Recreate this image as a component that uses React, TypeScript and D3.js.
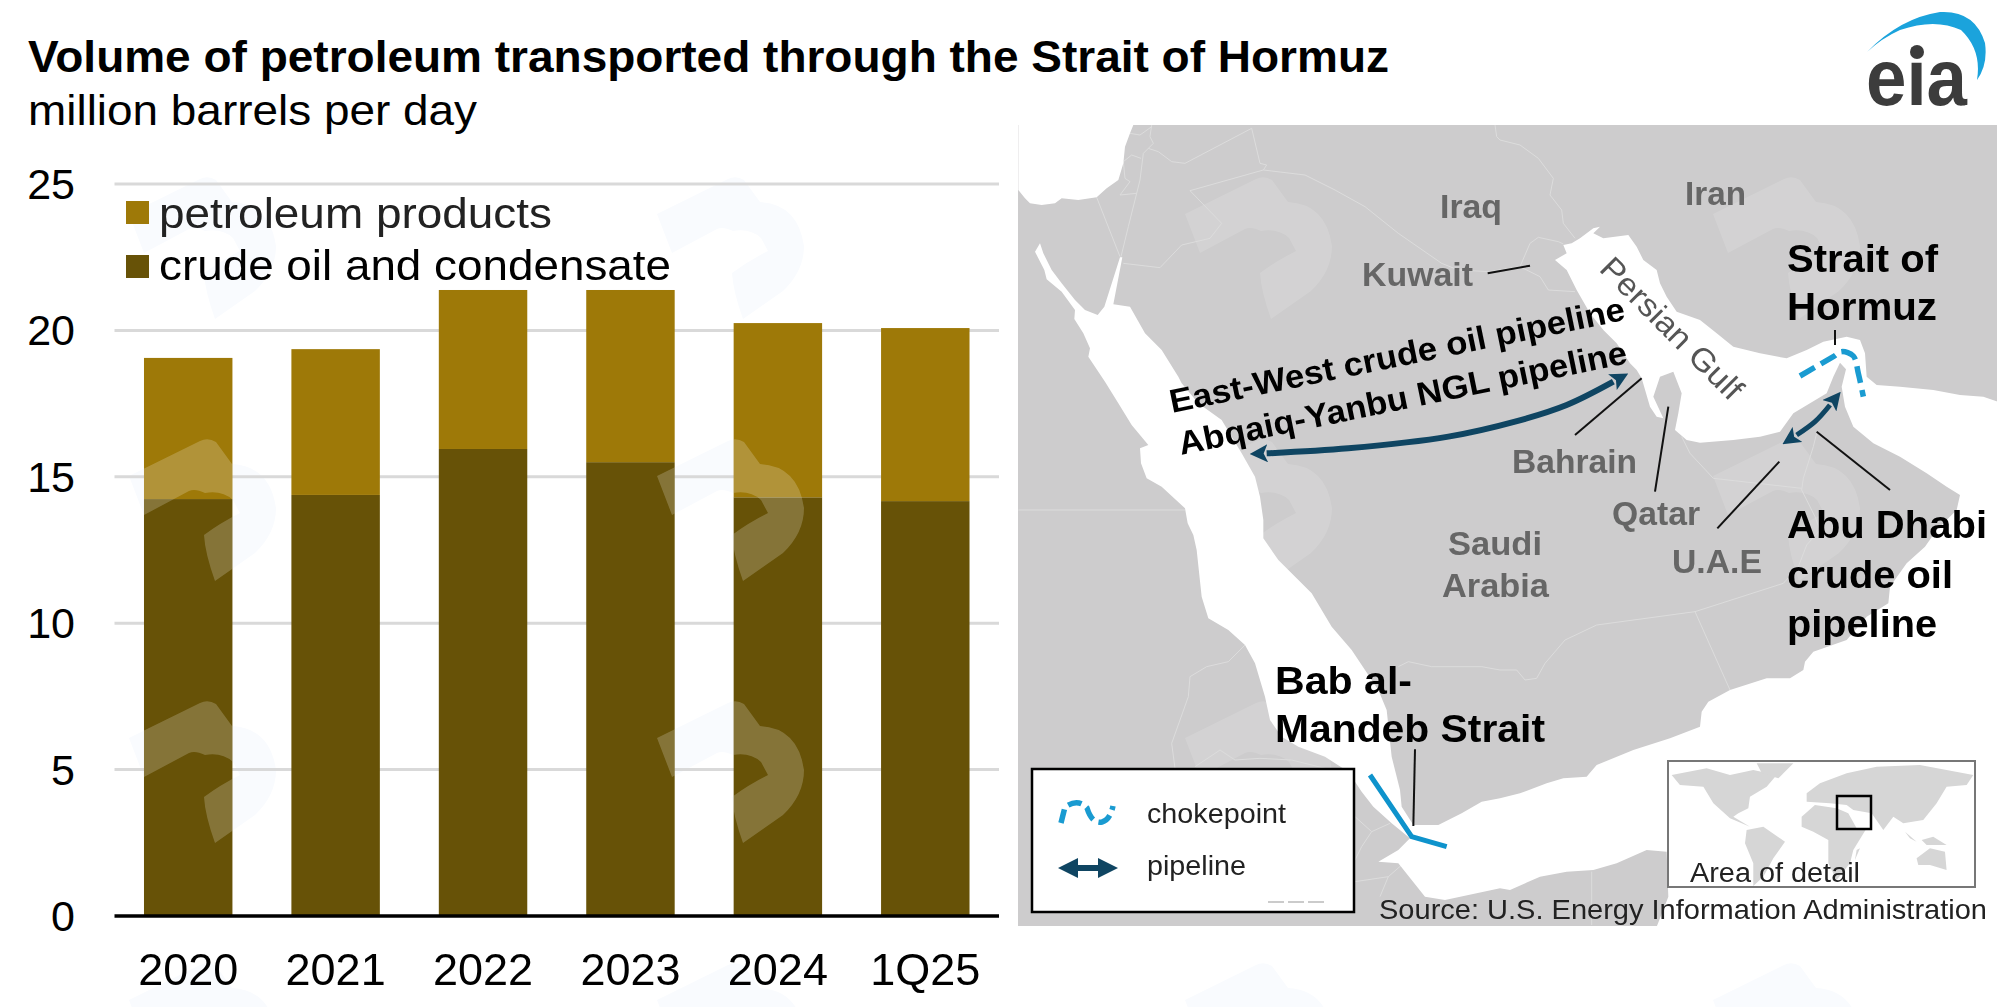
import * as d3 from "d3";

type Pt = [number, number];

// chart data, million barrels per day
const categories = ["2020", "2021", "2022", "2023", "2024", "1Q25"];
const crudeOil = [14.24, 14.38, 15.95, 15.5, 14.3, 14.17];
const petroleumProducts = [4.82, 4.98, 5.43, 5.88, 5.95, 5.91];
const yTicks = [0, 5, 10, 15, 20, 25];

// map outlines, lon/lat
const seaOutline: Pt[] = [
  [32.06, 29.65], [31.91, 29.4], [32.19, 28.85], [32.26, 28.57], [32.71, 28.2], [33.11, 27.65], [33.09, 27.38],
  [33.36, 26.95], [33.56, 26.5], [33.51, 26.25], [34.01, 25.5], [34.41, 24.85], [34.81, 24.2], [35.31, 23.6],
  [35.06, 23.5], [35.09, 23.05], [35.26, 22.6], [35.71, 22.35], [36.41, 21.7], [36.49, 21.25], [36.66, 20.9],
  [36.76, 20.45], [36.91, 19.05], [37.11, 18.4], [37.71, 18.05], [38.21, 17.6], [38.51, 17.05], [38.81, 16.05],
  [38.96, 15.35], [39.31, 14.85], [39.81, 14.55], [40.61, 14.25], [41.31, 13.8], [41.71, 13.2], [42.06, 12.75],
  [42.61, 12.25], [43.16, 11.8], [42.81, 11.45], [42.21, 11.1], [42.81, 11.05], [43.21, 10.55], [43.61, 10.05],
  [44.21, 9.95], [45.86, 10.3], [46.16, 10.25], [47.06, 10.65], [47.86, 10.8], [48.66, 10.85], [49.36, 11.05],
  [50.26, 11.45], [50.86, 11.4], [50.91, 10.05], [50.56, 9.15], [60.8, 9.15], [60.8, 24.9], [60.36, 25.05],
  [59.66, 25.1], [58.86, 25.25], [57.86, 25.35], [57.16, 25.4], [56.86, 25.65], [56.81, 26.35], [56.66, 26.75],
  [56.26, 26.85], [55.56, 26.7], [55.06, 26.45], [54.46, 26.2], [53.66, 26.35], [52.86, 26.55], [52.36, 26.95],
  [51.86, 27.35], [51.16, 27.6], [50.86, 28.05], [50.66, 28.45], [50.56, 28.85], [50.16, 29.15], [49.96, 29.55],
  [49.71, 29.9], [48.96, 29.8], [48.66, 29.95], [48.86, 30.15], [48.66, 30.1], [48.26, 29.8], [48.01, 29.65],
  [47.76, 29.6], [47.86, 29.35], [47.51, 29.15], [47.86, 28.85], [48.16, 28.25], [48.56, 27.55], [48.96, 27.05],
  [49.36, 26.65], [49.76, 26.05], [49.96, 25.85], [50.11, 25.6], [50.36, 24.75], [50.56, 24.45], [50.76, 24.4],
  [50.46, 25.05], [50.66, 25.65], [51.06, 25.8], [51.31, 25.15], [51.21, 24.55], [51.11, 24.05], [51.46, 23.75],
  [51.86, 23.67], [52.86, 23.75], [53.66, 23.85], [54.26, 24.0], [54.66, 24.55], [55.16, 24.85], [55.66, 25.15],
  [55.86, 25.65], [56.06, 26.07], [56.24, 25.87], [56.11, 25.35], [56.21, 24.75], [56.46, 24.15], [57.06, 23.65],
  [57.86, 23.25], [58.66, 22.75], [59.26, 22.35], [59.66, 22.1], [59.56, 21.65], [58.96, 21.05], [58.61, 20.55],
  [58.06, 20.05], [57.56, 19.35], [57.51, 18.85], [56.86, 18.45], [56.26, 17.75], [55.26, 17.4], [55.01, 17.1],
  [54.96, 16.85], [54.56, 16.6], [53.86, 16.6], [52.76, 16.25], [52.11, 15.9], [51.91, 15.6], [51.86, 15.15],
  [50.96, 14.8], [49.86, 14.45], [48.76, 14.0], [48.46, 13.65], [47.76, 13.6], [47.26, 13.45], [46.46, 13.15],
  [45.86, 13.0], [45.31, 12.9], [44.71, 12.55], [44.01, 12.2], [43.26, 12.2], [42.91, 12.75], [42.86, 13.25],
  [42.61, 14.25], [42.46, 15.65], [42.21, 16.25], [41.41, 17.45], [40.81, 18.15], [40.21, 19.15], [39.21, 20.15],
  [38.76, 20.8], [38.76, 21.35], [38.66, 22.05], [38.51, 22.65], [38.11, 23.35], [37.51, 24.35], [36.81, 24.85],
  [36.31, 25.45], [36.21, 25.65], [35.71, 26.45], [35.21, 26.95], [34.76, 27.75], [34.26, 27.82], [34.53, 29.23],
  [34.46, 29.23], [33.99, 27.75], [33.79, 27.5], [33.41, 27.65], [33.11, 27.95], [32.71, 28.45], [32.41, 28.85],
  [32.16, 29.35],
];
const mediterranean: Pt[] = [
  [34.86, 33.2], [34.76, 32.95], [34.61, 32.55], [34.56, 32.05], [34.41, 31.55], [34.06, 31.3], [33.76, 31.03],
  [33.21, 30.95], [32.71, 31.0], [32.51, 30.85], [32.11, 30.8], [31.76, 30.85], [31.61, 31.0], [31.41, 31.25],
  [31.41, 33.2],
];
const borders: Pt[][] = [
  [[35.41, 33.2], [35.36, 32.85], [35.46, 32.65], [35.31, 32.5], [35.61, 32.4], [36.01, 32.1], [36.41, 32.05],
    [38.41, 33.1], [38.66, 32.05], [38.86, 32.0], [38.76, 31.85], [40.01, 31.7], [40.91, 31.25], [41.81, 30.75],
    [42.81, 29.95], [44.11, 29.05], [44.61, 28.85], [45.51, 28.8], [46.46, 28.95]],
  [[46.46, 28.95], [46.76, 29.65], [47.01, 29.83], [47.61, 29.7], [47.76, 29.63]],
  [[46.46, 28.95], [47.06, 28.65], [47.31, 28.25], [48.11, 28.2]],
  [[38.76, 31.85], [36.56, 31.23], [37.51, 30.25], [37.16, 29.8], [36.31, 29.6], [35.66, 28.92], [34.56, 29.05]],
  [[33.76, 31.03], [34.46, 29.25]],
  [[35.31, 32.5], [35.16, 32.35], [35.06, 31.55], [34.71, 30.15], [34.49, 29.25]],
  [[35.09, 32.2], [34.81, 32.3], [34.56, 32.1], [34.61, 31.6], [34.76, 31.5], [34.46, 31.1], [34.96, 31.15]],
  [[34.76, 32.95], [35.06, 32.9], [35.41, 33.15]],
  [[45.71, 33.2], [45.76, 32.85], [45.86, 32.75], [46.46, 32.6], [47.01, 32.2], [47.46, 31.6], [47.36, 31.1],
    [47.71, 30.65], [47.76, 30.25], [48.11, 29.8]],
  [[31.41, 21.65], [36.41, 21.65]],
  [[42.81, 16.95], [43.11, 17.1], [43.81, 16.95], [45.31, 16.95], [45.86, 16.85], [46.36, 16.85], [46.61, 16.55],
    [46.96, 16.6], [47.21, 17.05], [47.81, 17.75], [48.76, 18.2], [51.71, 18.6], [54.36, 19.45], [54.81, 19.95],
    [55.06, 20.6], [55.46, 21.05], [55.31, 21.45], [54.91, 22.25], [54.96, 22.6], [55.26, 23.55], [55.36, 23.95]],
  [[51.31, 23.85], [51.56, 23.35], [52.26, 22.6], [54.91, 22.3]],
  [[51.71, 18.6], [52.76, 16.25]],
  [[38.21, 17.6], [37.71, 17.1], [37.06, 16.95], [36.56, 16.65], [36.51, 16.05], [36.26, 15.35], [36.01, 14.65], [36.11, 13.9]],
  [[36.71, 13.95], [37.46, 14.45], [37.91, 14.15], [38.66, 14.2], [39.61, 14.15], [40.61, 13.9]],
  [[41.51, 12.45], [42.01, 12.0], [42.56, 12.25]],
  [[42.01, 12.0], [41.71, 11.55], [41.51, 11.15]],
  [[41.51, 10.5], [42.51, 10.65], [42.91, 11.0]],
  [[42.51, 10.65], [42.26, 10.05]],
  [[48.61, 10.8], [48.61, 9.2]],
];
const leaders: Pt[][] = [
  [[45.49, 28.75], [46.76, 28.98]],
  [[50.11, 25.6], [48.11, 23.9]],
  [[50.91, 24.75], [50.51, 22.2]],
  [[54.24, 23.1], [52.38, 21.1]],
  [[55.36, 24.0], [57.56, 22.25]],
  [[55.91, 27.05], [55.91, 26.6]],
  [[43.31, 14.47], [43.26, 12.17]],
];
const eastWestPipeline: Pt[] = [[38.86, 23.35], [41.31, 23.5], [44.31, 23.85], [46.31, 24.3], [47.86, 24.8], [49.26, 25.5]];
const abuDhabiPipeline: Pt[] = [[54.76, 23.9], [55.31, 24.3], [55.76, 24.8]];
const hormuzChoke: Pt[] = [[54.86, 25.67], [55.86, 26.25], [56.11, 26.4], [56.46, 26.27], [56.61, 25.75], [56.76, 25.05]];
const mandebChoke: Pt[] = [[41.96, 13.7], [43.21, 11.85], [44.26, 11.55]];

// inset world map, lon/lat
const worldLand: Pt[][] = [
  [[-175.7, 58], [-134.7, 64.7], [-107.3, 58], [-80, 63], [-52.6, 58], [-64.3, 46.3], [-83.9, 36.3], [-85.8, 24.7],
    [-97.5, 19.7], [-103.4, 16.3], [-83.9, 6.3], [-107.3, 14.7], [-126.8, 29.7], [-138.5, 46.3], [-166, 48]],
  [[-76, 69.7], [-33, 69.7], [-50.6, 54.7], [-70, 59.7]],
  [[-87.8, 3], [-68.2, 6.3], [-42.8, -8.7], [-56.5, -25.3], [-68.2, -43.7], [-80, -53], [-80, -30.3], [-89.7, -10.3]],
  [[-23.3, 16.3], [-7.7, 28], [17.7, 24.7], [31.4, 19.7], [41.2, 4.7], [52.9, 4.7], [37.3, -17], [33.4, -30.3],
    [17.7, -47], [8, -30.3], [8, -7], [-9.6, 1.3], [-23.3, 6.3]],
  [[-17.4, 39.7], [-1.8, 49.7], [29.5, 59.7], [64.6, 66.3], [115.4, 68], [178, 58], [170.2, 48], [146.7, 46.3],
    [135, 29.7], [119.3, 13], [95.9, 9.7], [84.2, 16.3], [72.5, 3], [58.8, 19.7], [37.3, 23], [29.5, 28], [9.9, 29.7], [-17.4, 31.3]],
  [[111.5, -25.3], [127.2, -15.3], [144.8, -18.7], [146.7, -37], [127.2, -32], [113.5, -32]],
  [[97.9, 1.3], [111.5, -8.7], [103.7, -5.3]],
  [[117.4, -7], [131, -3.7], [146.7, -12], [123.3, -12]],
  [[41.2, -17], [45.1, -15.3], [39.2, -27]],
];

const COL_TOP = "#9e7908";
const COL_BOTTOM = "#675207";
const PIPE = "#0f4562";
const CHOKE = "#1a9bd1";
const FONT = "'Liberation Sans', Arial, sans-serif";

// faint stamp that repeats over the whole picture
const stampPath =
  "M129 738 L200 703 Q208 699 216 704 L232 726 Q270 728 276 770 Q276 795 255 815 L215 843 Q205 815 204 797 Q220 785 240 775 L233 762 Q222 752 205 755 Q195 750 189 753 L144 777 Z";
const stampCols = [0, 528, 1056, 1584];
const stampRows = [-524, -262, 0, 262];

const x = d3.scaleBand<string>().domain(categories).range([114.5, 999]).paddingInner(0.4).paddingOuter(0.2);
const y = d3.scaleLinear().domain([0, 25]).range([916, 184]);
const mapX = d3.scaleLinear().domain([31.4, 60.8]).range([1018, 1998]);
const mapY = d3.scaleLinear().domain([33.2, 9.17]).range([125, 926]);
const worldX = d3.scaleLinear().domain([-180, 180]).range([1668, 1975]);
const worldY = d3.scaleLinear().domain([72, -54]).range([761, 887]);

const geo = d3.line<Pt>().x((d) => mapX(d[0])).y((d) => mapY(d[1]));
const geoCurve = d3.line<Pt>().x((d) => mapX(d[0])).y((d) => mapY(d[1])).curve(d3.curveCatmullRom);
const world = d3.line<Pt>().x((d) => worldX(d[0])).y((d) => worldY(d[1])).curve(d3.curveLinearClosed);

const rows = categories.map((c, i) => ({ c, crude: crudeOil[i], products: petroleumProducts[i] }));
const stack = d3.stack<(typeof rows)[number]>().keys(["crude", "products"])(rows);

function Label(p: { x: number; y: number; w?: number; size: number; bold?: boolean; fill?: string; children: string; rotate?: number; anchor?: string }) {
  return (
    <text
      x={p.x} y={p.y}
      fontFamily={FONT} fontSize={p.size} fontWeight={p.bold ? 700 : 400}
      fill={p.fill ?? "#000"} textAnchor={p.anchor}
      textLength={p.w} lengthAdjust={p.w ? "spacingAndGlyphs" : undefined}
      transform={p.rotate ? `rotate(${p.rotate} ${p.x} ${p.y})` : undefined}
    >
      {p.children}
    </text>
  );
}

function Stamps(p: { fill: string; opacity?: number; clip?: string }) {
  return (
    <g clipPath={p.clip} fill={p.fill} opacity={p.opacity}>
      {stampCols.map((dx) =>
        stampRows.map((dy) => <path key={`${dx}-${dy}`} d={stampPath} transform={`translate(${dx},${dy})`} />)
      )}
    </g>
  );
}

export default function App() {
  const bw = x.bandwidth();
  return (
    <svg width={1998} height={1007} style={{ position: "absolute", left: 0, top: 0, display: "block" }}>
      <defs>
        <clipPath id="bars">
          {rows.map((r) => (
            <rect key={r.c} x={x(r.c)} y={y(r.crude + r.products)} width={bw} height={y(0) - y(r.crude + r.products)} />
          ))}
        </clipPath>
        <clipPath id="land">
          <rect x={mapX(31.4)} y={mapY(33.2)} width={980} height={801} />
        </clipPath>
        <marker id="head" viewBox="0 0 18 18" refX="1" refY="9" markerWidth="18" markerHeight="18" markerUnits="userSpaceOnUse" orient="auto-start-reverse">
          <path d="M0 0 L18 9 L0 18 L4 9 Z" fill={PIPE} />
        </marker>
      </defs>

      <rect width={1998} height={1007} fill="#fff" />
      <Stamps fill="#f9fbfe" />

      {/* title */}
      <Label x={28} y={72} w={1361} size={45} bold>Volume of petroleum transported through the Strait of Hormuz</Label>
      <Label x={28} y={125} w={449} size={43}>million barrels per day</Label>

      {/* grid and y axis */}
      {yTicks.filter((t) => t > 0).map((t) => (
        <line key={t} x1={114.5} x2={999} y1={y(t)} y2={y(t)} stroke="#d9d9d9" strokeWidth={3} />
      ))}
      {yTicks.map((t) => (
        <Label key={t} x={75} y={y(t) + 15} size={43} anchor="end">{String(t)}</Label>
      ))}

      {/* stacked bars */}
      {stack.map((s, i) => (
        <g key={s.key} fill={i === 0 ? COL_BOTTOM : COL_TOP}>
          {s.map((d, j) => (
            <rect key={j} x={x(categories[j])} y={y(d[1])} width={bw} height={y(d[0]) - y(d[1])} />
          ))}
        </g>
      ))}
      <Stamps fill="#fff" opacity={0.2} clip="url(#bars)" />
      <line x1={114.5} x2={999} y1={y(0)} y2={y(0)} stroke="#000" strokeWidth={3.5} />
      {categories.map((c) => (
        <Label key={c} x={x(c)! + bw / 2} y={985} size={45} anchor="middle">{c}</Label>
      ))}

      {/* chart legend */}
      <rect x={126} y={201} width={23} height={23} fill={COL_TOP} />
      <rect x={126} y={255} width={23} height={23} fill={COL_BOTTOM} />
      <Label x={159} y={228} w={393} size={43} fill="#222">petroleum products</Label>
      <Label x={159} y={280} w={512} size={43}>crude oil and condensate</Label>

      {/* map */}
      <rect x={mapX(31.4)} y={mapY(33.2)} width={979} height={801} fill="#cdcccd" />
      <Stamps fill="#fff" opacity={0.13} clip="url(#land)" />
      <g fill="none" stroke="#dcdcdc" strokeWidth={1}>
        {borders.map((b, i) => <path key={i} d={geo(b)!} />)}
      </g>
      <path d={geo(seaOutline)! + "Z"} fill="#fff" />
      <path d={geo(mediterranean)! + "Z"} fill="#fff" />

      <g stroke="#111" strokeWidth={2} fill="none">
        {leaders.map((l, i) => <path key={i} d={geo(l)!} />)}
      </g>

      <path d={geoCurve(hormuzChoke)!} fill="none" stroke={CHOKE} strokeWidth={5.5} strokeDasharray="17 7" />
      <path d={geo(mandebChoke)!} fill="none" stroke="#0e93cc" strokeWidth={5} />
      <path d={geoCurve(eastWestPipeline)!} fill="none" stroke={PIPE} strokeWidth={6} markerStart="url(#head)" markerEnd="url(#head)" />
      <path d={geoCurve(abuDhabiPipeline)!} fill="none" stroke={PIPE} strokeWidth={5} markerStart="url(#head)" markerEnd="url(#head)" />

      {/* gray place names */}
      <g>
        <Label x={1440} y={218} w={62} size={33} bold fill="#666">Iraq</Label>
        <Label x={1685} y={205} w={61} size={33} bold fill="#666">Iran</Label>
        <Label x={1362} y={286} w={111} size={33} bold fill="#666">Kuwait</Label>
        <Label x={1512} y={473} w={125} size={33} bold fill="#666">Bahrain</Label>
        <Label x={1612} y={525} w={88} size={33} bold fill="#666">Qatar</Label>
        <Label x={1448} y={555} w={94} size={33} bold fill="#666">Saudi</Label>
        <Label x={1442} y={597} w={107} size={33} bold fill="#666">Arabia</Label>
        <Label x={1672} y={573} w={90} size={33} bold fill="#666">U.A.E</Label>
        <Label x={1598} y={270} w={187} size={32} fill="#555" rotate={45}>Persian Gulf</Label>
      </g>

      {/* bold annotations */}
      <Label x={1172} y={413} w={464} size={33} bold rotate={-11.6}>East-West crude oil pipeline</Label>
      <Label x={1181} y={455} w={457} size={33} bold rotate={-11.6}>Abqaiq-Yanbu NGL pipeline</Label>
      <Label x={1787} y={272} w={151} size={39} bold>Strait of</Label>
      <Label x={1787} y={320} w={150} size={39} bold>Hormuz</Label>
      <Label x={1787} y={538} w={200} size={39} bold>Abu Dhabi</Label>
      <Label x={1787} y={588} w={166} size={39} bold>crude oil</Label>
      <Label x={1787} y={637} w={150} size={39} bold>pipeline</Label>
      <Label x={1275} y={694} w={137} size={39} bold>Bab al-</Label>
      <Label x={1275} y={742} w={270} size={39} bold>Mandeb Strait</Label>

      {/* map legend */}
      <rect x={1032} y={769} width={322} height={143} fill="#fff" stroke="#000" strokeWidth={2.5} />
      <path d="M1061 823 L1065 807 Q1078 798 1087 808 Q1092 824 1102 822 Q1110 820 1113 806" fill="none" stroke={CHOKE} strokeWidth={5.5} strokeDasharray="14 6" />
      <Label x={1147} y={823} w={139} size={28} fill="#222">chokepoint</Label>
      <line x1={1074} x2={1102} y1={868} y2={868} stroke={PIPE} strokeWidth={6} />
      <path d="M1058 868 L1078 858 L1078 878 Z M1118 868 L1098 858 L1098 878 Z" fill={PIPE} />
      <Label x={1147} y={875} w={99} size={28} fill="#222">pipeline</Label>
      <line x1={1268} x2={1325} y1={902} y2={902} stroke="#bbb" strokeWidth={1.5} strokeDasharray="16 4" />

      {/* inset */}
      <rect x={1668} y={761} width={307} height={126} fill="#fff" stroke="#777" strokeWidth={2} />
      <g fill="#d6d6d6">
        {worldLand.map((p, i) => <path key={i} d={world(p)!} />)}
      </g>
      <rect x={1837} y={796} width={34} height={33} fill="none" stroke="#000" strokeWidth={2.5} />
      <Label x={1690} y={882} w={170} size={27} fill="#222">Area of detail</Label>
      <Label x={1379} y={919} w={608} size={28} fill="#222">Source: U.S. Energy Information Administration</Label>

      {/* eia logo */}
      <path d="M1867 52 Q1900 18 1940 12 Q1975 10 1985 43 Q1988 65 1977 80 Q1982 50 1961 30 Q1935 18 1900 30 Q1882 38 1867 52 Z" fill="#1ba3dc" />
      <Label x={1866} y={105} w={101} size={79} bold fill="#3c3c3c">eia</Label>
      <circle cx={1917} cy={52} r={7} fill="#3c3c3c" />
    </svg>
  );
}
